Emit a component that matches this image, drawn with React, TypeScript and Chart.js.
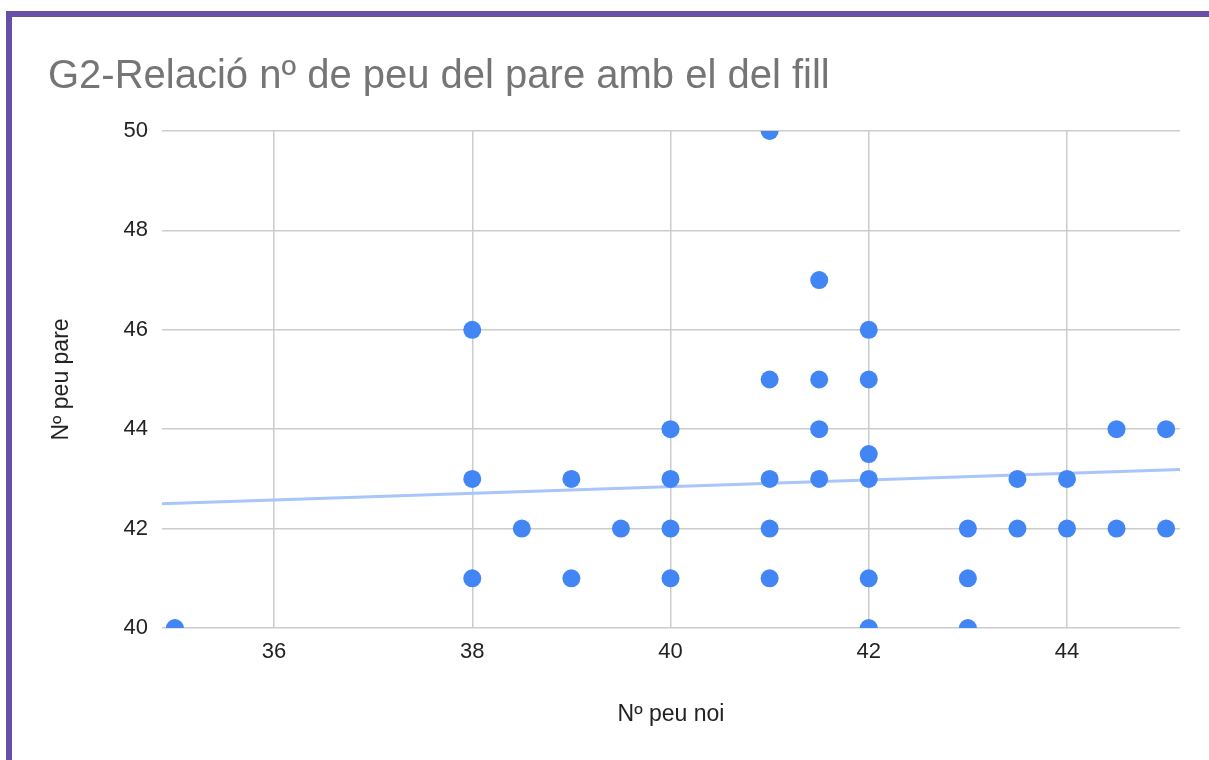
import React, { useEffect, useRef } from "react";
import { Chart, registerables } from "chart.js";

Chart.register(...registerables);

const TITLE = "G2-Relació nº de peu del pare amb el del fill";
const X_TITLE = "Nº peu noi";
const Y_TITLE = "Nº peu pare";

// Nº peu noi (son's shoe size)
const sonSize: number[] = [
  35,
  38, 38, 38,
  38.5,
  39, 39,
  39.5,
  40, 40, 40, 40,
  41, 41, 41, 41, 41,
  41.5, 41.5, 41.5, 41.5,
  42, 42, 42, 42, 42, 42,
  43, 43, 43,
  43.5, 43.5,
  44, 44,
  44.5, 44.5,
  45, 45,
];

// Nº peu pare (father's shoe size)
const fatherSize: number[] = [
  40,
  46, 43, 41,
  42,
  43, 41,
  42,
  44, 43, 42, 41,
  50, 45, 43, 42, 41,
  47, 45, 44, 43,
  46, 45, 43.5, 43, 41, 40,
  42, 41, 40,
  43, 42,
  43, 42,
  44, 42,
  44, 42,
];

const X_MIN = 34.87;
const X_MAX = 45.14;
const xTicks: number[] = [36, 38, 40, 42, 44];
const yTicks: number[] = [40, 42, 44, 46, 48, 50];

const FONT = "Arial, 'Liberation Sans', sans-serif";

function linearFit(xs: number[], ys: number[]) {
  const n = xs.length;
  const mx = xs.reduce((a, b) => a + b, 0) / n;
  const my = ys.reduce((a, b) => a + b, 0) / n;
  let sxy = 0;
  let sxx = 0;
  for (let i = 0; i < n; i++) {
    sxy += (xs[i] - mx) * (ys[i] - my);
    sxx += (xs[i] - mx) * (xs[i] - mx);
  }
  const slope = sxy / sxx;
  return { slope, intercept: my - slope * mx };
}

export default function App() {
  const ref = useRef<HTMLCanvasElement | null>(null);

  useEffect(() => {
    if (!ref.current) return;
    const fit = linearFit(sonSize, fatherSize);
    const trend = [X_MIN, X_MAX].map((x) => ({ x, y: fit.intercept + fit.slope * x }));
    const points = sonSize.map((x, i) => ({ x, y: fatherSize[i] }));

    const chart = new Chart(ref.current, {
      type: "scatter",
      data: {
        datasets: [
          {
            type: "scatter",
            data: points,
            backgroundColor: "#4285f4",
            borderColor: "#4285f4",
            pointRadius: 9,
            pointHoverRadius: 9,
            borderWidth: 0,
            order: 1,
            clip: 0,
          },
          {
            type: "line",
            data: trend,
            borderColor: "#a8c6fa",
            borderWidth: 3,
            pointRadius: 0,
            fill: false,
            order: 2,
            clip: 0,
          },
        ],
      },
      options: {
        responsive: false,
        animation: false,
        layout: { padding: { left: 48, right: 29, top: 0, bottom: 0 } },
        plugins: {
          legend: { display: false },
          tooltip: { enabled: false },
          title: {
            display: true,
            text: TITLE,
            align: "start",
            color: "#757575",
            font: { family: FONT, size: 40, weight: "normal" },
            padding: { top: 53, bottom: 30 },
          },
        },
        scales: {
          x: {
            type: "linear",
            min: X_MIN,
            max: X_MAX,
            afterBuildTicks: (scale: any) => {
              scale.ticks = xTicks.map((v) => ({ value: v }));
            },
            afterFit: (scale: any) => {
              scale.height = 132;
            },
            grid: { color: "#cccccc", lineWidth: 1.5, drawTicks: false },
            border: { display: false },
            ticks: {
              color: "#222222",
              padding: 11,
              font: { family: FONT, size: 22 },
            },
            title: {
              display: true,
              text: X_TITLE,
              color: "#222222",
              font: { family: FONT, size: 23 },
              padding: { top: 0, bottom: 32 },
            },
          },
          y: {
            type: "linear",
            min: 40,
            max: 50,
            afterBuildTicks: (scale: any) => {
              scale.ticks = yTicks.map((v) => ({ value: v }));
            },
            afterFit: (scale: any) => {
              scale.width = 114;
            },
            grid: { color: "#cccccc", lineWidth: 1.5, drawTicks: false },
            border: { display: false },
            ticks: {
              color: "#222222",
              padding: 14,
              font: { family: FONT, size: 22 },
            },
            title: {
              display: true,
              text: Y_TITLE,
              color: "#222222",
              font: { family: FONT, size: 23 },
              padding: { top: 0, bottom: 0 },
            },
          },
        },
      },
    } as any);
    return () => chart.destroy();
  }, []);

  return (
    <div style={{ position: "fixed", left: 0, top: 0, width: 1209, height: 760, background: "#fff" }}>
      <div
        style={{
          position: "absolute",
          left: 6,
          top: 11,
          right: 0,
          bottom: 0,
          borderLeft: "6px solid #674ea7",
          borderTop: "6px solid #674ea7",
          pointerEvents: "none",
        }}
      />
      <canvas ref={ref} width={1209} height={760} style={{ position: "absolute", left: 0, top: 0 }} />
    </div>
  );
}
